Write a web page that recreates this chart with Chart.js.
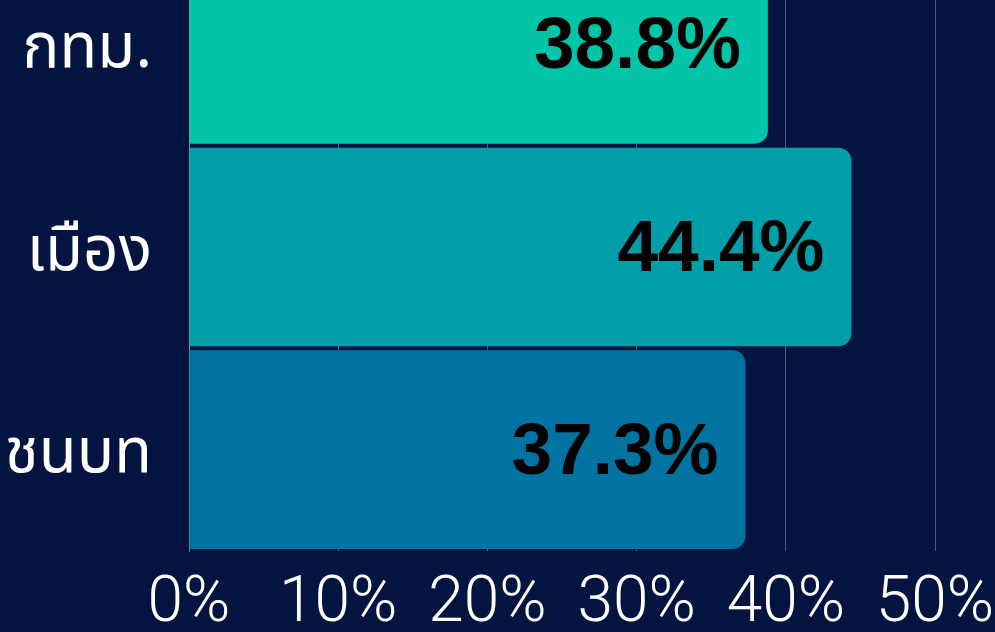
<!DOCTYPE html>
<html>
<head>
<meta charset="utf-8">
<script src="https://cdn.jsdelivr.net/npm/chart.js@4"></script>
<style>
  html, body { margin: 0; padding: 0; background: #02143f; overflow: hidden; width: 995px; height: 632px; }
  #chart { position: absolute; left: 0; top: -57px; }
</style>
</head>
<body>
<canvas id="chart" width="995" height="689"></canvas>
<script>
// data
const categories = ['กทม.', 'เมือง', 'ชนบท'];
const shares = [38.8, 44.4, 37.3];
const barColors = ['#02c4a8', '#009ea9', '#0073a0'];
const xTicks = [0, 10, 20, 30, 40, 50];

// value labels drawn inside the end of each bar
const valueLabels = {
  id: 'valueLabels',
  afterDatasetsDraw(chart) {
    const ctx = chart.ctx;
    const meta = chart.getDatasetMeta(0);
    ctx.save();
    ctx.font = 'bold 73px "Liberation Sans", Arial, sans-serif';
    ctx.fillStyle = '#000000';
    ctx.textAlign = 'right';
    ctx.textBaseline = 'middle';
    meta.data.forEach((bar, i) => {
      ctx.fillText(shares[i].toFixed(1) + '%', bar.x - 27, bar.y + 4);
    });
    ctx.restore();
  }
};

new Chart(document.getElementById('chart'), {
  type: 'bar',
  data: {
    labels: categories,
    datasets: [{
      data: shares,
      backgroundColor: barColors,
      borderWidth: 0,
      borderRadius: 13,
      borderSkipped: 'start',
      barPercentage: 1,
      categoryPercentage: 0.98
    }]
  },
  options: {
    indexAxis: 'y',
    responsive: false,
    animation: false,
    layout: { padding: { top: 0, right: 60, bottom: 0, left: 0 } },
    plugins: { legend: { display: false }, tooltip: { enabled: false } },
    scales: {
      x: {
        min: 0,
        max: 50,
        afterBuildTicks: s => { s.ticks = xTicks.map(v => ({ value: v })); },
        afterFit: s => { s.height = 81; s.paddingLeft = 0; s.paddingRight = 0; },
        grid: { color: 'rgba(170,180,200,0.45)', lineWidth: 1, drawTicks: false },
        border: { display: false },
        ticks: {
          color: '#ffffff',
          padding: 16,
          maxRotation: 0,
          font: { family: 'Roboto', weight: 300, size: 64 },
          callback: v => v + '%'
        }
      },
      y: {
        afterFit: s => { s.width = 189; s.paddingTop = 0; s.paddingBottom = 0; },
        grid: { display: false, drawTicks: false },
        border: { display: true, color: 'rgba(170,180,200,0.6)', width: 1 },
        ticks: {
          color: '#ffffff',
          padding: 37,
          labelOffset: 10,
          font: { family: '"Noto Sans Thai", "Noto Sans", sans-serif', size: 62 }
        }
      }
    }
  },
  plugins: [valueLabels]
});
</script>
</body>
</html>
